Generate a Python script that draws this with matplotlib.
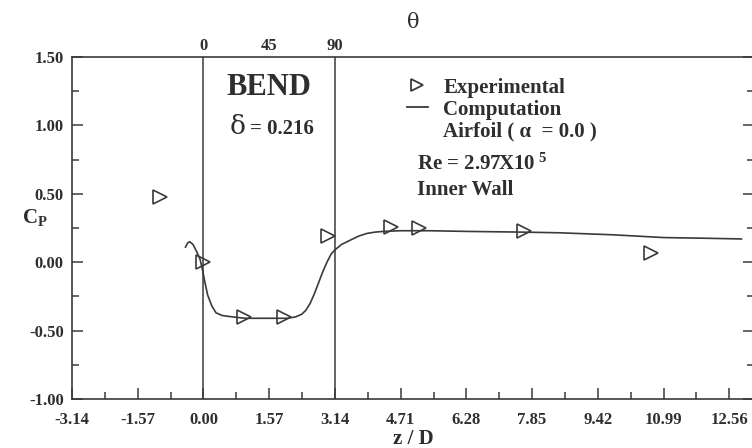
import numpy as np
import matplotlib.pyplot as plt
from matplotlib.lines import Line2D
from matplotlib.ticker import MultipleLocator, FixedLocator, FixedFormatter

plt.rcParams['font.family'] = ['Liberation Serif', 'DejaVu Serif']
plt.rcParams['font.weight'] = 'bold'
plt.rcParams['mathtext.fontset'] = 'custom'
plt.rcParams['mathtext.rm'] = 'Liberation Serif:bold'
plt.rcParams['mathtext.bf'] = 'Liberation Serif:bold'
plt.rcParams['mathtext.it'] = 'Liberation Serif:bold'

INK = '#3a3a3a'
TXT = '#2e2e2e'

# mesures experimentales (paroi interne)
exp_z = [-1.05, 0.0, 0.98, 1.93, 2.98, 4.49, 5.16, 7.66, 10.7]
exp_cp = [0.48, 0.0, -0.40, -0.40, 0.19, 0.26, 0.25, 0.23, 0.065]

# calcul (profil aile, alpha = 0)
comp_z = [-0.43, -0.38, -0.33, -0.25, -0.15, -0.08, -0.02, 0.03, 0.10, 0.20,
          0.30, 0.45, 0.70, 1.00, 1.50, 2.00, 2.20, 2.35, 2.45, 2.55,
          2.65, 2.75, 2.85, 2.95, 3.05, 3.14, 3.30, 3.50, 3.70, 3.90,
          4.10, 4.30, 4.70, 5.40, 6.30, 7.60, 8.50, 9.80, 11.0, 12.0, 12.85]
comp_cp = [0.11, 0.14, 0.15, 0.13, 0.07, 0.02, -0.06, -0.14, -0.24, -0.32,
           -0.37, -0.39, -0.40, -0.41, -0.41, -0.41, -0.40, -0.38, -0.35, -0.30,
           -0.23, -0.15, -0.07, 0.0, 0.06, 0.09, 0.13, 0.16, 0.19, 0.21,
           0.22, 0.225, 0.23, 0.23, 0.225, 0.22, 0.215, 0.20, 0.18, 0.175, 0.17]

x_ticks = [-3.14, -1.57, 0.00, 1.57, 3.14, 4.71, 6.28, 7.85, 9.42, 10.99, 12.56]
y_ticks = [-1.00, -0.50, 0.00, 0.50, 1.00, 1.50]
theta_pos = [0.0, 1.57, 3.14]
theta_labels = ['0', '45', '90']
bend_edges = [0.0, 3.14]

fig = plt.figure(figsize=(7.52, 4.48), dpi=100)
ax = fig.add_axes([72 / 752, 49 / 448, 682 / 752, 342 / 448])

ax.plot(comp_z, comp_cp, color=INK, lw=1.2)
ax.plot(exp_z, exp_cp, ls='none', marker='>', ms=10, mfc='none', mec=INK, mew=1.2)

for xv in bend_edges:
    ax.axvline(xv, color=INK, lw=1.1)

ax.set_xlim(-3.14, 13.15)
ax.set_ylim(-1.0, 1.5)

ax.xaxis.set_major_locator(FixedLocator(x_ticks))
ax.xaxis.set_major_formatter(FixedFormatter(['%.2f' % v for v in x_ticks]))
ax.xaxis.set_minor_locator(MultipleLocator(0.785))
ax.yaxis.set_major_locator(FixedLocator(y_ticks))
ax.yaxis.set_major_formatter(FixedFormatter(['%.2f' % v for v in y_ticks]))
ax.yaxis.set_minor_locator(MultipleLocator(0.25))

ax.tick_params(which='both', direction='in', colors=INK, labelsize=12,
               right=True, top=False, width=1.1)
ax.tick_params(which='major', length=8)
ax.tick_params(which='minor', length=5)
ax.tick_params(axis='x', pad=9)
ax.tick_params(axis='y', pad=6)
for lab in ax.get_xticklabels() + ax.get_yticklabels():
    lab.set_fontweight('bold')
    lab.set_color(TXT)
for sp in ax.spines.values():
    sp.set_color(INK)
    sp.set_linewidth(1.2)

ax.set_xlabel('z / D', fontsize=15, fontweight='bold', color=TXT, labelpad=1)
ax.set_ylabel(r'$\mathbf{C_P}$', fontsize=15, color=TXT, rotation=0)
ax.yaxis.set_label_coords(-0.055, 0.5)

# angle dans le coude, axe du haut
top = ax.secondary_xaxis('top')
top.set_xticks(theta_pos)
top.set_xticklabels(theta_labels)
top.tick_params(length=0, pad=2, labelsize=12, colors=TXT)
for lab in top.get_xticklabels():
    lab.set_fontweight('bold')
top.spines['top'].set_visible(False)
top.set_xlabel('θ', fontsize=15, fontweight='normal', color=TXT,
               family=['DejaVu Serif'], labelpad=7)

ax.text(1.57, 1.28, 'BEND', ha='center', va='center', fontsize=22,
        fontweight='bold', color=TXT)
ax.text(1.0, 0.99, 'δ', ha='right', va='center', fontsize=19,
        fontweight='normal', color=TXT, family=['DejaVu Serif'])
ax.text(1.12, 0.975, '= 0.216', ha='left', va='center', fontsize=15,
        fontweight='bold', color=TXT)

# legende : symbole, trait, puis ligne sans symbole
handles = [Line2D([], [], ls='none', marker='>', ms=8, mfc='none', mec=INK, mew=1.3),
           Line2D([], [], color=INK, lw=1.3),
           Line2D([], [], ls='none')]
leg = ax.legend(handles, ['Experimental', 'Computation', 'Airfoil ( α  = 0.0 )'],
                loc='upper left', bbox_to_anchor=(0.491, 0.94), frameon=False,
                borderpad=0, borderaxespad=0,
                handlelength=1.0, handletextpad=0.75, labelspacing=0.1,
                prop={'weight': 'bold', 'size': 15})
for t in leg.get_texts():
    t.set_color(TXT)

ax.text(5.09, 0.72, r'Re = 2.97X10$^{\ 5}$', ha='left', va='center', fontsize=15,
        fontweight='bold', color=TXT)
ax.text(5.09, 0.525, 'Inner Wall', ha='left', va='center', fontsize=15,
        fontweight='bold', color=TXT)

fig.savefig('out.png', dpi=100)
